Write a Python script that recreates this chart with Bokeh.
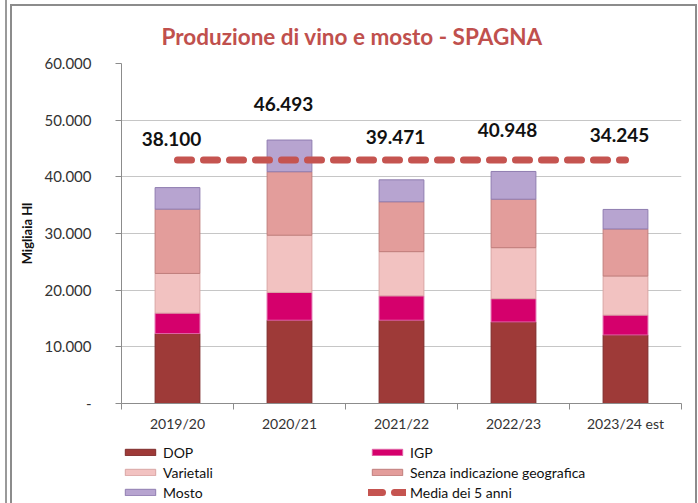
from bokeh.plotting import figure
from bokeh.models import (ColumnDataSource, FixedTicker, Legend, LegendItem, LabelSet,
                          Range1d, CustomJSTickFormatter)
from bokeh.layouts import column
from bokeh.core.properties import value
from bokeh.embed import file_html
from bokeh.resources import INLINE

categories = ["2019/20", "2020/21", "2021/22", "2022/23", "2023/24 est"]
dop = [12350, 14700, 14700, 14400, 12100]
igp = [3600, 4900, 4300, 4100, 3500]
varietali = [7000, 10100, 7800, 9000, 6900]
senza = [11350, 11200, 8800, 8550, 8300]
mosto = [3800, 5593, 3871, 4898, 3445]
media_5_anni = [42950, 42950, 42950, 42950, 42950]
total_labels = ["38.100", "46.493", "39.471", "40.948", "34.245"]
label_y = [46600, 52800, 47000, 48300, 47400]
y_ticks = [0, 10000, 20000, 30000, 40000, 50000, 60000]
y_tick_labels = ["-", "10.000", "20.000", "30.000", "40.000", "50.000", "60.000"]
series_names = ["DOP", "IGP", "Varietali", "Senza indicazione geografica", "Mosto"]
line_name = "Media dei 5 anni"

FONT = "Lato"
xs = [i + 0.5 for i in range(len(categories))]
source = ColumnDataSource(dict(x=xs, cat=categories, DOP=dop, IGP=igp, Varietali=varietali,
                               Senza=senza, Mosto=mosto, media=media_5_anni,
                               lab=total_labels, ly=label_y))

p = figure(width=698, height=440, output_backend="svg", toolbar_location=None,
           x_range=Range1d(0, len(categories)), y_range=Range1d(0, 60000),
           min_border_left=121, min_border_right=17, min_border_top=63, min_border_bottom=37)
p.outline_line_color = None
p.background_fill_alpha = 0
p.border_fill_alpha = 0

fills = ["#9E3A38", "#D5006C", "#F2C2C1", "#E39D9B", "#B7A4D0"]
edges = ["#7E2B2A", "#E062A6", "#D9A5A4", "#C07E7C", "#8F7DB0"]
stack_cols = ["DOP", "IGP", "Varietali", "Senza", "Mosto"]
LINE_COLOR = "#C55450"
bars = p.vbar_stack(stack_cols, x="x", width=0.4, source=source,
                    fill_color=fills, line_color=edges, line_width=1)

line = p.line(x="x", y="media", source=source, line_color=LINE_COLOR, line_width=7,
              line_dash="14 12", line_cap="round")

labels = LabelSet(x="x", y="ly", text="lab", source=source, text_align="center",
                  text_baseline="middle", x_offset=-6, text_font=value(FONT),
                  text_font_style="bold", text_font_size="19px", text_color="#111111",
                  background_fill_color="white")
p.add_layout(labels)

p.title.text = "Produzione di vino e mosto - SPAGNA"
p.title.text_font = FONT
p.title.text_font_size = "22.5px"
p.title.text_color = "#C0504D"
p.title.align = "left"
p.title.offset = 40
p.title.standoff = 28

# axes
p.xgrid.visible = False
p.ygrid.ticker = FixedTicker(ticks=y_ticks[1:-1])
p.ygrid.grid_line_color = "#C6C6C6"

p.yaxis.ticker = FixedTicker(ticks=y_ticks)
p.yaxis.formatter = CustomJSTickFormatter(args=dict(vals=y_ticks, labs=y_tick_labels),
                                          code="const i = vals.indexOf(tick); return i >= 0 ? labs[i] : '';")
p.yaxis.minor_tick_line_color = None
p.yaxis.major_tick_out = 6
p.yaxis.major_tick_in = 0
p.yaxis.major_label_standoff = 24
p.yaxis.axis_line_color = "#8C8C8C"
p.yaxis.major_tick_line_color = "#8C8C8C"
p.yaxis.major_label_text_font = FONT
p.yaxis.major_label_text_font_size = "15px"
p.yaxis.major_label_text_color = "#333333"
p.yaxis.axis_label = "Migliaia Hl"
p.yaxis.axis_label_text_font = FONT
p.yaxis.axis_label_text_font_style = "bold"
p.yaxis.axis_label_text_font_size = "13px"
p.yaxis.axis_label_text_color = "#111111"
p.yaxis.axis_label_standoff = 6

p.xaxis.ticker = FixedTicker(ticks=xs, minor_ticks=list(range(len(categories) + 1)))
p.xaxis.formatter = CustomJSTickFormatter(args=dict(cats=categories),
                                          code="return cats[Math.floor(tick)];")
p.xaxis.major_tick_line_color = None
p.xaxis.major_tick_out = 0
p.xaxis.major_tick_in = 0
p.xaxis.minor_tick_line_color = "#8C8C8C"
p.xaxis.minor_tick_out = 6
p.xaxis.minor_tick_in = 0
p.xaxis.axis_line_color = "#8C8C8C"
p.xaxis.major_label_standoff = 5
p.xaxis.major_label_text_font = FONT
p.xaxis.major_label_text_font_size = "14px"
p.xaxis.major_label_text_color = "#333333"

# legend strip below the chart (hidden proxy renderers carry the same styling)
lf = figure(width=698, height=63, output_backend="svg", toolbar_location=None,
            x_range=Range1d(0, len(categories)), y_range=Range1d(0, 60000),
            min_border_left=0, min_border_right=0, min_border_top=0, min_border_bottom=0)
lf.axis.visible = False
lf.grid.visible = False
lf.outline_line_color = None
lf.background_fill_alpha = 0
lf.border_fill_alpha = 0
leg_bars = lf.vbar_stack(stack_cols, x="x", width=0.4, source=source,
                         fill_color=fills, line_color=edges, line_width=1)
leg_line = lf.line(x="x", y="media", source=source, line_color=LINE_COLOR, line_width=7,
                   line_dash="14 12", line_cap="round")
for r in list(leg_bars) + [leg_line]:
    r.visible = False
items = [LegendItem(label=series_names[i], renderers=[leg_bars[i]]) for i in range(5)]
items.append(LegendItem(label=line_name, renderers=[leg_line]))
legend = Legend(items=items, location=(0, 1), orientation="horizontal", ncols=2,
                glyph_width=38, glyph_height=8, label_width=205, label_standoff=4,
                label_height=20, spacing=0, padding=0, margin=0,
                border_line_color=None, background_fill_alpha=0,
                inactive_fill_alpha=0,
                label_text_font=FONT, label_text_font_size="14px", label_text_color="#111111")
lf.add_layout(legend)

frame_css = {
    "background-color": "white",
    "background-image": ("linear-gradient(#8C8C8C,#8C8C8C), linear-gradient(#8C8C8C,#8C8C8C), "
                         "linear-gradient(#8C8C8C,#8C8C8C), linear-gradient(#9A9A9A,#9A9A9A)"),
    "background-size": "687px 2px, 2px 503px, 2px 503px, 2px 503px",
    "background-position": "10px 4px, 10px 4px, 695px 4px, 5px 0px",
    "background-repeat": "no-repeat",
}
layout = column(p, lf, spacing=0, styles=frame_css)
open("out.html", "w").write(file_html(layout, INLINE))
